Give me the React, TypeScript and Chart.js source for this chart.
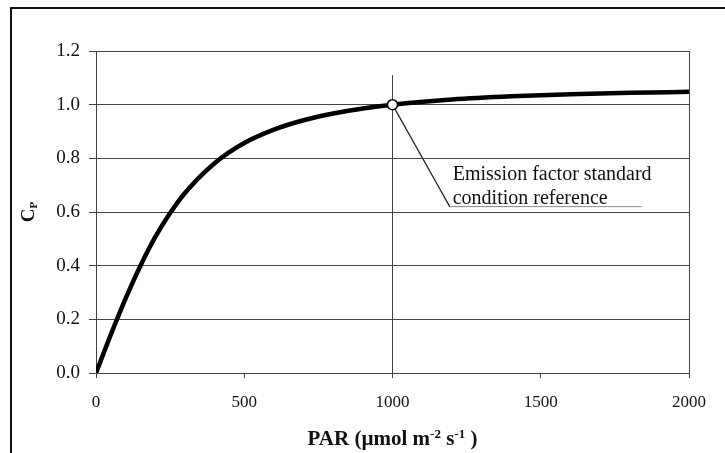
import React, { useEffect, useRef } from "react";
import { Chart, registerables } from "chart.js";

Chart.register(...registerables);

// Curve data
const PAR = [0, 50, 100, 150, 200, 250, 300, 400, 500, 600, 700, 800, 900, 1000, 1200, 1400, 1600, 1800, 2000];
const CP = [0, 0.143, 0.278, 0.4, 0.507, 0.596, 0.671, 0.782, 0.857, 0.907, 0.942, 0.967, 0.986, 1.0, 1.019, 1.031, 1.039, 1.044, 1.048];

// Reference point and annotation
const REF_PAR = 1000;
const REF_CP = 1.0;
const REF_LINE_TOP = 1.11;
const LEADER_END = { x: 1193, y: 0.62 };
const UNDERLINE_END_X = 1840;
const ANNOT_LINES = ["Emission factor standard", "condition reference"];

const X_TICKS = [0, 500, 1000, 1500, 2000];
const Y_TICKS = [0, 0.2, 0.4, 0.6, 0.8, 1.0, 1.2];

const SERIF = "'Liberation Serif', 'Times New Roman', serif";
const GRID = "#444";

const decorPlugin = {
  id: "decor",
  beforeDraw(chart: any) {
    const ctx = chart.ctx;
    ctx.save();
    ctx.fillStyle = "#fff";
    ctx.fillRect(0, 0, chart.width, chart.height);
    ctx.strokeStyle = "#111";
    ctx.lineWidth = 2;
    ctx.beginPath();
    ctx.moveTo(11, chart.height);
    ctx.lineTo(11, 8);
    ctx.lineTo(chart.width, 8);
    ctx.stroke();
    ctx.restore();
  },
  afterDraw(chart: any) {
    const ctx = chart.ctx;
    const xs = chart.scales.x;
    const ys = chart.scales.y;
    ctx.save();
    ctx.fillStyle = "#111";
    // X title with superscripts
    const parts: [string, boolean][] = [
      ["PAR (\u00b5mol m", false],
      ["-2", true],
      [" s", false],
      ["-1", true],
      [" )", false],
    ];
    const big = `bold 21px ${SERIF}`;
    const small = `bold 13px ${SERIF}`;
    let total = 0;
    for (const [t, sup] of parts) {
      ctx.font = sup ? small : big;
      total += ctx.measureText(t).width;
    }
    const cx = (xs.left + xs.right) / 2;
    let x = cx - total / 2;
    const base = 445;
    ctx.textBaseline = "alphabetic";
    ctx.textAlign = "left";
    for (const [t, sup] of parts) {
      ctx.font = sup ? small : big;
      ctx.fillText(t, x, sup ? base - 7 : base);
      x += ctx.measureText(t).width;
    }
    // Y title C_P rotated
    const cy = (ys.top + ys.bottom) / 2;
    ctx.translate(34, cy);
    ctx.rotate(-Math.PI / 2);
    ctx.font = `bold 19px ${SERIF}`;
    const wC = ctx.measureText("C").width;
    ctx.font = `bold 11px ${SERIF}`;
    const wP = ctx.measureText("P").width;
    const start = -(wC + wP) / 2;
    ctx.font = `bold 19px ${SERIF}`;
    ctx.fillText("C", start, 0);
    ctx.font = `bold 11px ${SERIF}`;
    ctx.fillText("P", start + wC, 3);
    ctx.restore();

    // Annotation text
    ctx.save();
    ctx.fillStyle = "#111";
    ctx.font = `20px ${SERIF}`;
    ctx.textAlign = "left";
    ctx.textBaseline = "alphabetic";
    const ax = xs.getPixelForValue(LEADER_END.x) + 3;
    const ay = ys.getPixelForValue(LEADER_END.y);
    ctx.fillText(ANNOT_LINES[0], ax, ay - 27);
    ctx.fillText(ANNOT_LINES[1], ax, ay - 3);
    ctx.restore();
  },
};

export default function App() {
  const ref = useRef<HTMLCanvasElement>(null);
  useEffect(() => {
    if (!ref.current) return;
    const chart = new Chart(ref.current, {
      type: "line",
      data: {
        datasets: [
          {
            data: [
              { x: REF_PAR, y: 0 },
              { x: REF_PAR, y: REF_LINE_TOP },
            ],
            borderColor: GRID,
            borderWidth: 1,
            pointRadius: 0,
            order: 5,
          },
          {
            data: PAR.map((p, i) => ({ x: p, y: CP[i] })),
            borderColor: "#000",
            borderWidth: 4.5,
            pointRadius: 0,
            cubicInterpolationMode: "monotone",
            order: 3,
          },
          {
            data: [
              { x: REF_PAR, y: REF_CP },
              { x: LEADER_END.x, y: LEADER_END.y },
            ],
            borderColor: "#222",
            borderWidth: 1.2,
            pointRadius: 0,
            order: 2,
          },
          {
            data: [
              { x: LEADER_END.x, y: LEADER_END.y },
              { x: UNDERLINE_END_X, y: LEADER_END.y },
            ],
            borderColor: "#888",
            borderWidth: 1,
            pointRadius: 0,
            order: 2,
          },
          {
            data: [{ x: REF_PAR, y: REF_CP }],
            showLine: false,
            pointRadius: 5,
            pointBorderWidth: 1.5,
            pointBackgroundColor: "#fff",
            pointBorderColor: "#000",
            order: 1,
          },
        ],
      },
      plugins: [decorPlugin],
      options: {
        animation: false,
        responsive: true,
        maintainAspectRatio: false,
        layout: { padding: { left: 0, right: 36, top: 51, bottom: 0 } },
        plugins: { legend: { display: false }, tooltip: { enabled: false } },
        scales: {
          x: {
            type: "linear",
            min: 0,
            max: 2000,
            afterBuildTicks: (s: any) => {
              s.ticks = X_TICKS.map((v) => ({ value: v }));
            },
            afterFit: (s: any) => {
              s.height = 80;
            },
            ticks: {
              color: "#111",
              font: { family: SERIF, size: 17 },
              padding: 14,
              maxRotation: 0,
              callback: (v: any) => String(v),
            },
            grid: {
              color: (c: any) => (c.tick && c.tick.value === 2000 ? GRID : "rgba(0,0,0,0)"),
              tickColor: GRID,
              tickLength: 5,
              drawOnChartArea: true,
            },
            border: { display: true, color: GRID, width: 1 },
          },
          y: {
            type: "linear",
            min: 0,
            max: 1.2,
            afterBuildTicks: (s: any) => {
              s.ticks = Y_TICKS.map((v) => ({ value: v }));
            },
            afterFit: (s: any) => {
              s.width = 96;
            },
            ticks: {
              color: "#111",
              font: { family: SERIF, size: 19 },
              padding: 9,
              callback: (v: any) => Number(v).toFixed(1),
            },
            grid: {
              color: GRID,
              tickColor: GRID,
              tickLength: 7,
              lineWidth: 1,
            },
            border: { display: true, color: GRID, width: 1 },
          },
        },
      },
    });
    return () => chart.destroy();
  }, []);
  return (
    <div style={{ position: "fixed", left: 0, top: 0, width: 725, height: 453, background: "#fff" }}>
      <canvas ref={ref} />
    </div>
  );
}
